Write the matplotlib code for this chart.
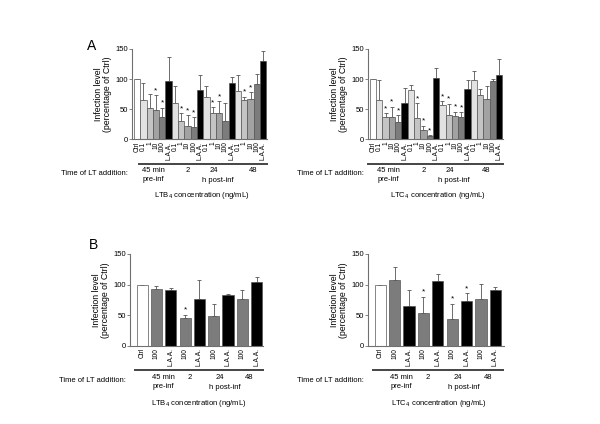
''' INFECTION LEVEL VS LT ADDITION TIME '''

import matplotlib
matplotlib.use("Agg")
import matplotlib.pyplot as plt

plt.rcParams['font.family'] = ['Liberation Sans', 'DejaVu Sans']

# panel A : concentrations 0.1-100 ng/mL
labels_a = ['Ctrl'] + ['0.1', '1', '10', '100', 'L.A.A.'] * 4
ltb4_a = [100, 65, 52, 49, 38, 96, 60, 31, 23, 20, 81, 70, 43, 43, 31, 94, 80, 65, 67, 92, 129]
ltb4_a_err = [0, 28, 23, 24, 14, 41, 28, 12, 17, 17, 25, 19, 10, 20, 29, 10, 27, 6, 11, 17, 17]
ltb4_a_sig = [3, 4, 7, 8, 9, 12, 13, 17, 18]
ltc4_a = [100, 66, 38, 37, 29, 61, 81, 36, 16, 6, 101, 57, 40, 39, 38, 84, 99, 74, 67, 96, 106]
ltc4_a_err = [0, 32, 5, 17, 11, 24, 9, 24, 7, 1, 18, 6, 19, 7, 7, 14, 14, 9, 22, 4, 27]
ltc4_a_sig = [2, 3, 4, 7, 8, 9, 11, 12, 13, 14]

# panel B : 100 ng/mL only
labels_b = ['Ctrl', '100', 'L.A.A.'] + ['100', 'L.A.A.'] * 3
ltb4_b = [100, 93, 91, 45, 77, 49, 83, 77, 105]
ltb4_b_err = [0, 4, 4, 6, 31, 20, 2, 14, 8]
ltb4_b_sig = [3]
ltc4_b = [100, 108, 65, 54, 106, 44, 74, 76, 92]
ltc4_b_err = [0, 20, 26, 26, 11, 25, 12, 25, 4]
ltc4_b_sig = [3, 5, 6]

shade = {'Ctrl': 'white', '0.1': '#e2e2e2', '1': '#c4c4c4', '10': '#a2a2a2',
         '100': '#7c7c7c', 'L.A.A.': 'black'}
shade_b = {'Ctrl': 'white', '100': '#7c7c7c', 'L.A.A.': 'black'}

AX = '#707070'
FS = 5.5


def panel(ax, labels, vals, err, sig, cols, width, xlim, grp_x, grp_line, conc):
    x = list(range(len(vals)))
    ax.bar(x, vals, width=width, color=[cols[l] for l in labels],
           edgecolor='#555555', linewidth=0.5, zorder=2)
    ax.errorbar(x, vals, yerr=[[0] * len(err), err], fmt='none',
                ecolor='#555555', elinewidth=0.6, capsize=1.3, capthick=0.6, zorder=1)
    for i in sig:
        ax.text(i, vals[i] + err[i] + 2, '*', ha='center', va='bottom', fontsize=6)
    ax.set_xlim(*xlim)
    ax.set_ylim(0, 150)
    ax.set_yticks([0, 50, 100, 150])
    ax.set_xticks(x)
    ax.set_xticklabels(labels, rotation=90, fontsize=4.8)
    ax.tick_params(axis='x', length=0, pad=1.5)
    ax.tick_params(axis='y', labelsize=FS, length=2, width=0.6, color=AX, pad=1)
    for s in ['top', 'right']:
        ax.spines[s].set_visible(False)
    for s in ['left', 'bottom']:
        ax.spines[s].set_color(AX)
        ax.spines[s].set_linewidth(0.8)
    ax.set_ylabel('Infection level\n(percentage of Ctrl)', fontsize=FS + 0.8, labelpad=2,
                  linespacing=1.1)
    tr = ax.get_xaxis_transform()
    ax.plot(grp_line, [-0.265, -0.265], transform=tr, clip_on=False, color='#444444', lw=1.4)
    ax.text(grp_x[0], -0.3, '45 min\npre-inf', transform=tr, ha='center', va='top',
            fontsize=FS, linespacing=1.4)
    for xx, t in zip(grp_x[1:4], ['2', '24', '48']):
        ax.text(xx, -0.3, t, transform=tr, ha='center', va='top', fontsize=FS)
    ax.text(grp_x[4], -0.41, 'h post-inf', transform=tr, ha='center', va='top', fontsize=FS)
    ax.text(-0.03, -0.37, 'Time of LT addition:', transform=ax.transAxes, ha='right',
            va='center', fontsize=FS)
    ax.text(0.52, -0.56, conc + ' concentration (ng/mL)', transform=ax.transAxes,
            ha='center', va='top', fontsize=FS)


fig = plt.figure(figsize=(6, 4.24), dpi=100)

ax1 = fig.add_axes([0.22, 0.671, 0.225, 0.214])
panel(ax1, labels_a, ltb4_a, ltb4_a_err, ltb4_a_sig, shade, 1.0, (-0.8, 20.6),
      [2.6, 8.1, 12.2, 18.4, 12.8], [0.3, 20.6], 'LTB$_4$')
ax2 = fig.add_axes([0.6133, 0.671, 0.225, 0.214])
panel(ax2, labels_a, ltc4_a, ltc4_a_err, ltc4_a_sig, shade, 1.0, (-0.8, 20.6),
      [2.4, 8.1, 12.2, 18.0, 12.8], [-0.8, 20.6], 'LTC$_4$')

ax3 = fig.add_axes([0.2167, 0.184, 0.2217, 0.217])
panel(ax3, labels_b, ltb4_b, ltb4_b_err, ltb4_b_sig, shade_b, 0.78, (-0.85, 8.45),
      [1.5, 3.3, 5.4, 7.5, 5.8], [-0.5, 8.45], 'LTB$_4$')
ax4 = fig.add_axes([0.6133, 0.184, 0.2267, 0.217])
panel(ax4, labels_b, ltc4_b, ltc4_b_err, ltc4_b_sig, shade_b, 0.78, (-0.85, 8.6),
      [1.5, 3.3, 5.4, 7.5, 5.8], [-0.5, 8.5], 'LTC$_4$')

fig.text(0.153, 0.892, 'A', fontsize=10, ha='center', va='center')
fig.text(0.155, 0.422, 'B', fontsize=10, ha='center', va='center')

fig.savefig('out.png', dpi=100)
plt.close()
